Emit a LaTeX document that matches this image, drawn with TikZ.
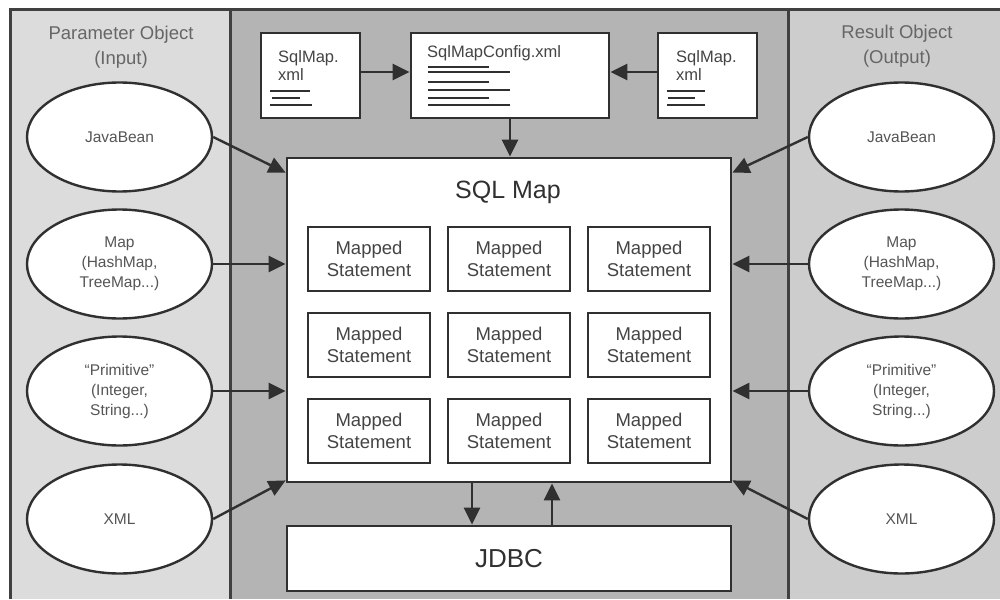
\documentclass[tikz,border=0pt]{standalone}
\usepackage{fontspec}
\setmainfont{Liberation Sans}
\usetikzlibrary{arrows.meta,shapes.geometric,calc}
\definecolor{leftbg}{HTML}{DCDCDC}
\definecolor{midbg}{HTML}{B4B4B4}
\definecolor{rightbg}{HTML}{CDCDCD}
\definecolor{ink}{HTML}{303030}
\definecolor{frameln}{HTML}{404040}
\definecolor{titletxt}{HTML}{666666}
\definecolor{elltxt}{HTML}{555555}
\definecolor{boxtxt}{HTML}{444444}
\begin{document}
\begin{tikzpicture}[x=1pt,y=-1pt,
  ell/.style={ellipse,draw=ink,line width=2.4pt,fill=white,minimum width=185pt,minimum height=109pt,inner sep=0pt,align=center,text=elltxt,font=\fontsize{15.5}{20}\selectfont},
  ttl/.style={align=center,text=titletxt,font=\fontsize{18.5}{25}\selectfont},
  bigbox/.style={draw=ink,line width=2.8pt,fill=white,inner sep=0pt},
  msbox/.style={draw=ink,line width=2.8pt,fill=white,minimum width=122pt,minimum height=64pt,inner sep=0pt,align=center,text=boxtxt,font=\fontsize{18.5}{22}\selectfont},
  xmlbox/.style={draw=ink,line width=2.8pt,fill=white,minimum height=85pt,inner sep=0pt},
  small/.style={anchor=west,inner sep=0pt,align=left,text=boxtxt,font=\fontsize{16.5}{18}\selectfont},
  txtline/.style={draw=ink,line width=2.3pt},
  arr/.style={draw=ink,line width=2.4pt,-{Triangle[length=17pt,width=16pt]}},
  frame/.style={draw=frameln,line width=3pt}]
\useasboundingbox (0,0) rectangle (1000,599);
\fill[white] (0,0) rectangle (1000,599);
% panels
\fill[leftbg] (10,10) rectangle (230,599);
\fill[midbg] (230,10) rectangle (788,599);
\fill[rightbg] (788,10) rectangle (1000,599);
\draw[frame] (10,599) -- (10,10) -- (1000,10);
\draw[frame] (230,10) -- (230,599);
\draw[frame] (788,10) -- (788,599);
% titles
\node[ttl] (tin) at (121,47) {Parameter Object\\(Input)};
\node[ttl] (tout) at (897,46) {Result Object\\(Output)};
% ellipses
\node[ell] (pj) at (119.5,137) {JavaBean};
\node[ell] (pm) at (119.5,264) {Map\\(HashMap,\\TreeMap...)};
\node[ell] (pp) at (119.5,391) {“Primitive”\\(Integer,\\String...)};
\node[ell] (px) at (119.5,519) {XML};
\node[ell] (rj) at (901.5,137) {JavaBean};
\node[ell] (rm) at (901.5,264) {Map\\(HashMap,\\TreeMap...)};
\node[ell] (rp) at (901.5,391) {“Primitive”\\(Integer,\\String...)};
\node[ell] (rx) at (901.5,519) {XML};
% top xml boxes
\node[xmlbox,minimum width=99pt] (sl) at (310.5,75.5) {};
\node[xmlbox,minimum width=198pt] (cfg) at (510,75.5) {};
\node[xmlbox,minimum width=99pt] (sr) at (707.5,75.5) {};
\node[small] (slt) at (278,66) {SqlMap.\\xml};
\node[small] (cfgt) at (427,53) {SqlMapConfig.xml};
\node[small] (srt) at (676,66) {SqlMap.\\xml};
\draw[txtline] (270,91) -- (310,91) (272,98) -- (300,98) (270,105) -- (312,105);
\draw[txtline] (667,91) -- (705,91) (668,98) -- (695,98) (667,105) -- (705,105);
\draw[txtline] (428,67) -- (489,67) (428,72) -- (510,72)
                (428,82) -- (489,82) (428,90) -- (510,90)
                (428,98) -- (489,98) (428,105) -- (510,105);
% SQL map
\node[bigbox,minimum width=444pt,minimum height=324pt] (sqlmap) at (509,320) {};
\node[text=ink,font=\fontsize{25}{30}\selectfont] (sqlt) at (508,192) {SQL Map};
\foreach \c/\x in {1/369,2/509,3/649}{
  \foreach \r/\y in {1/259,2/345,3/431}{
    \node[msbox] (ms\r\c) at (\x,\y) {Mapped\\Statement};
  }
}
% JDBC
\node[bigbox,minimum width=444pt,minimum height=65pt,text=ink,font=\fontsize{26}{30}\selectfont] (jdbc) at (509,558.5) {JDBC};
% arrows
\draw[arr] ([yshift=3.5pt]sl.east) -- ([yshift=3.5pt]cfg.west);
\draw[arr] ([yshift=3.5pt]sr.west) -- ([yshift=3.5pt]cfg.east);
\draw[arr] (cfg.south) -- (cfg.south |- sqlmap.north);
\draw[arr] (pj.east) -- ([yshift=-16pt]sqlmap.north west);
\draw[arr] (pm.east) -- (pm.east -| sqlmap.west);
\draw[arr] (pp.east) -- (pp.east -| sqlmap.west);
\draw[arr] (px.east) -- ([yshift=3pt]sqlmap.south west);
\draw[arr] (rj.west) -- ([yshift=-16pt]sqlmap.north east);
\draw[arr] (rm.west) -- (rm.west -| sqlmap.east);
\draw[arr] (rp.west) -- (rp.west -| sqlmap.east);
\draw[arr] (rx.west) -- ([yshift=3pt]sqlmap.south east);
\draw[arr] ([xshift=-37pt]sqlmap.south) -- ([xshift=-37pt]jdbc.north);
\draw[arr] ([xshift=43pt]jdbc.north) -- ([xshift=43pt]sqlmap.south);
\end{tikzpicture}
\end{document}
